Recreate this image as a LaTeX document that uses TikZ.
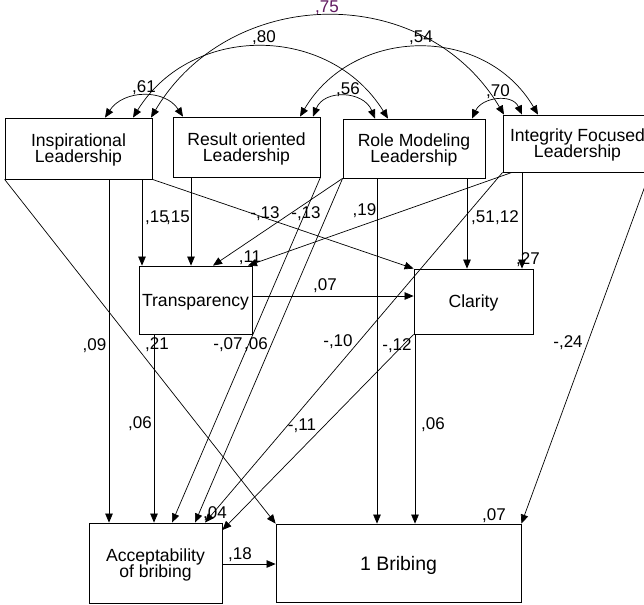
\documentclass[tikz,border=0pt]{standalone}
\usepackage{fontspec}
\setmainfont{Liberation Sans}
\usetikzlibrary{arrows.meta}
\definecolor{purp}{RGB}{96,24,96}
\lineskiplimit=-30pt
\begin{document}
\begin{tikzpicture}[x=1pt,y=-1pt,
  box/.style={draw, line width=0.8pt, rectangle, inner sep=0pt, align=center,
    font=\fontsize{17.6}{16}\selectfont, text depth=0pt},
  lbl/.style={inner sep=0pt, anchor=base, font=\fontsize{17}{17}\selectfont},
  arr/.style={line width=0.7pt, -{Triangle[length=9pt,width=7.5pt]}},
  cov/.style={line width=0.7pt, {Triangle[length=9pt,width=7.5pt]}-{Triangle[length=9pt,width=7.5pt]}}
]
\useasboundingbox (0,0) rectangle (644,604);
\fill[white] (0,0) rectangle (644,604);

% boxes
\node[box, minimum width=147pt, minimum height=61pt] (I) at (78.5,148.5) {Inspirational\\Leadership};
\node[box, minimum width=147pt, minimum height=60pt] (R) at (246.5,147) {Result oriented\\Leadership};
\node[box, minimum width=142pt, minimum height=59pt] (M) at (414,148.5) {Role Modeling\\Leadership};
\node[box, minimum width=149pt, minimum height=57pt] (G) at (577.5,143.5) {Integrity Focused\\Leadership};
\node[box, minimum width=113pt, minimum height=68pt] (T) at (195.5,300) {Transparency};
\node[box, minimum width=119pt, minimum height=65pt] (C) at (473.5,301.5) {Clarity};
\node[box, minimum width=133pt, minimum height=80pt] (A) at (155.5,563) {Acceptability\\of bribing};
\node[box, minimum width=245pt, minimum height=78pt, font=\fontsize{19.5}{20}\selectfont] (B) at (398.5,563) {1 Bribing};

% covariances
\draw[cov] (105,0 |- I.north) .. controls +(18.4,-28) and +(-18.4,-28) .. (183,0 |- R.north);
\draw[cov] (313,0 |- R.north) .. controls +(11.2,-27.8) and +(-11.2,-27.8) .. (375,0 |- M.north);
\draw[cov] (472,0 |- M.north) .. controls +(9.8,-21.4) and +(-9.8,-21.4) .. (522,0 |- G.north);
\draw[cov] (133,0 |- I.north) .. controls +(58.6,-94.6) and +(-58.6,-94.6) .. (388,0 |- M.north);
\draw[cov] (151,0 |- I.north) .. controls +(79.4,-133.3) and +(-79.4,-133.3) .. (504,0 |- G.north);
\draw[cov] (300,0 |- R.north) .. controls +(53.4,-90.6) and +(-53.4,-90.6) .. (538,0 |- G.north);

% regression paths
\draw[arr] (142,0 |- I.south) -- (142,0 |- T.north);
\draw[arr] (191,0 |- R.south) -- (191,0 |- T.north);
\draw[arr] (I.south east) -- (C.north west);
\draw[arr] (R.south east) -- (172,0 |- A.north);
\draw[arr] (M.south west) -- (213,0 |- T.north);
\draw[arr] (M.south west) -- (195,0 |- A.north);
\draw[arr] (377,0 |- M.south) -- (377,0 |- B.north);
\draw[arr] (467,0 |- M.south) -- (467,0 |- C.north);
\draw[arr] (512,0 |- G.south) -- (248,0 |- T.north);
\draw[arr] (G.south west) -- (205,0 |- A.north);
\draw[arr] (522,0 |- G.south) -- (522,0 |- C.north);
\draw[arr] (650,0 |- G.south) -- (B.north east);
\draw[arr] (T.east |- 0,296) -- (C.west |- 0,296);
\draw[arr] (154,0 |- T.south) -- (154,0 |- A.north);
\draw[arr] (109,0 |- I.south) -- (109,0 |- A.north);
\draw[arr] (I.south west) -- (B.north west);
\draw[arr] (C.south west) -- (A.east |- 0,530);
\draw[arr] (415,0 |- C.south) -- (415,0 |- B.north);
\draw[arr] (A.east |- 0,564) -- (B.west |- 0,564);

% labels
\node[lbl, text=purp] (l75) at (327,13) {,75};
\node[lbl] (l80) at (264,43) {,80};
\node[lbl] (l54) at (421,43) {,54};
\node[lbl] (l61) at (144,93) {,61};
\node[lbl] (l56) at (348,95) {,56};
\node[lbl] (l70) at (498,97) {,70};
\node[lbl] (l15a) at (157,222) {,15};
\node[lbl] (l15b) at (178,222) {,15};
\node[lbl] (l13a) at (265,218) {-,13};
\node[lbl] (l13b) at (306,218) {-,13};
\node[lbl] (l19) at (364.5,215) {,19};
\node[lbl] (l51) at (483,222) {,51};
\node[lbl] (l12) at (507,222) {,12};
\node[lbl] (l11) at (250,262) {,11};
\node[lbl] (l27) at (528,264) {,27};
\node[lbl] (l07a) at (325,290) {,07};
\node[lbl] (l09) at (94.5,350) {,09};
\node[lbl] (l21) at (157,349) {,21};
\node[lbl] (l07b) at (228,349) {-,07};
\node[lbl] (l06a) at (256,349) {,06};
\node[lbl] (l10) at (338,346) {-,10};
\node[lbl] (l12b) at (397,350) {-,12};
\node[lbl] (l06b) at (140,428) {,06};
\node[lbl] (l11b) at (302,430) {-,11};
\node[lbl] (l06c) at (433,429) {,06};
\node[lbl] (l24) at (568,347) {-,24};
\node[lbl] (l04) at (215,518) {,04};
\node[lbl] (l07c) at (494,520) {,07};
\node[lbl] (l18) at (240,559) {,18};
\end{tikzpicture}
\end{document}
